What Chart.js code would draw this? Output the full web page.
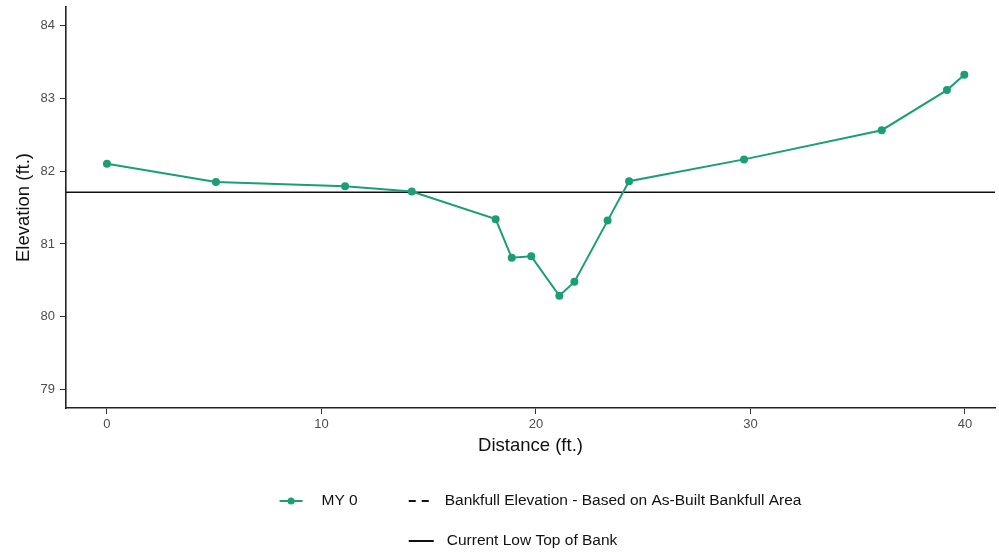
<!DOCTYPE html>
<html>
<head>
<meta charset="utf-8">
<script src="https://cdn.jsdelivr.net/npm/chart.js@4"></script>
<style>
  html, body { margin: 0; padding: 0; background: #fff; }
  #wrap { width: 999px; height: 553px; }
</style>
</head>
<body>
<div id="wrap"><canvas id="xsChart" width="999" height="553"></canvas></div>
<script>
// cross-section survey, MY 0
const distance = [0, 5.08, 11.1, 14.21, 18.12, 18.87, 19.78, 21.09, 21.79, 23.34, 24.34, 29.7, 36.12, 39.16, 39.97];
const elevation = [82.1, 81.85, 81.79, 81.72, 81.34, 80.81, 80.83, 80.29, 80.48, 81.32, 81.86, 82.16, 82.56, 83.11, 83.32];
const lowTopOfBank = 81.71;

const xMin = -1.91, xMax = 41.4;
const yMin = 78.75, yMax = 84.25;
const xTicks = [0, 10, 20, 30, 40];
const yTicks = [79, 80, 81, 82, 83, 84];

const legendLabels = ['MY 0', 'Bankfull Elevation - Based on As-Built Bankfull Area', 'Current Low Top of Bank'];

const teal = '#1b9e77';
const fontFamily = '"Liberation Sans", Arial, Helvetica, sans-serif';

const surveyPoints = distance.map((d, i) => ({ x: d, y: elevation[i] }));
const bankPoints = [{ x: xMin, y: lowTopOfBank }, { x: xMax, y: lowTopOfBank }];

// ggplot-like legend: two rows, second row sits under the second column
const rowLegend = {
  id: 'rowLegend',
  afterDraw(chart) {
    const ctx = chart.ctx;
    const area = chart.chartArea;
    ctx.save();
    ctx.font = '15.5px ' + fontFamily;
    ctx.textBaseline = 'middle';

    const keyW = 23, firstGap = 19, keyGap = 13, colGap = 51;
    const w0 = ctx.measureText(legendLabels[0]).width;
    const w1 = ctx.measureText(legendLabels[1]).width;
    const rowW = keyW + firstGap + w0 + colGap + keyW + keyGap + w1;
    const x0 = (area.left + area.right) / 2 + 10 - rowW / 2;
    const x1 = x0 + keyW + firstGap + w0 + colGap;
    const y0 = 501, y1 = 541;

    // MY 0 key
    ctx.strokeStyle = teal;
    ctx.lineWidth = 2;
    ctx.beginPath();
    ctx.moveTo(x0, y0); ctx.lineTo(x0 + keyW, y0);
    ctx.stroke();
    ctx.fillStyle = teal;
    ctx.beginPath();
    ctx.arc(x0 + keyW / 2, y0, 3.5, 0, Math.PI * 2);
    ctx.fill();
    ctx.fillStyle = '#111';
    ctx.fillText(legendLabels[0], x0 + keyW + firstGap, y0);

    // bankfull key
    ctx.strokeStyle = '#111';
    ctx.setLineDash([7, 6]);
    ctx.beginPath();
    ctx.moveTo(x1, y0); ctx.lineTo(x1 + keyW, y0);
    ctx.stroke();
    ctx.setLineDash([]);
    ctx.fillText(legendLabels[1], x1 + keyW + keyGap, y0);

    // top of bank key
    ctx.beginPath();
    ctx.moveTo(x1, y1); ctx.lineTo(x1 + keyW + 2, y1);
    ctx.stroke();
    ctx.fillText(legendLabels[2], x1 + keyW + keyGap + 2, y1);
    ctx.restore();
  }
};

new Chart(document.getElementById('xsChart'), {
  type: 'line',
  data: {
    datasets: [
      {
        label: legendLabels[0],
        data: surveyPoints,
        borderColor: teal,
        backgroundColor: teal,
        borderWidth: 2,
        pointRadius: 4,
        pointBorderWidth: 0,
        tension: 0,
      },
      {
        label: legendLabels[2],
        data: bankPoints,
        borderColor: '#111',
        borderWidth: 1.6,
        pointRadius: 0,
        tension: 0,
      },
    ],
  },
  options: {
    responsive: false,
    animation: false,
    events: [],
    layout: { padding: { top: 7, right: 0, left: 0, bottom: 93 } },
    plugins: {
      legend: { display: false },
      tooltip: { enabled: false },
    },
    scales: {
      x: {
        type: 'linear',
        min: xMin,
        max: xMax,
        afterFit: (scale) => {
          scale.height = 52;
          scale.paddingLeft = 0;
          scale.paddingRight = 0;
        },
        afterBuildTicks: (scale) => { scale.ticks = xTicks.map(v => ({ value: v })); },
        grid: { drawOnChartArea: false, tickLength: 6, tickColor: '#333', tickWidth: 1 },
        border: { color: '#222', width: 1.6 },
        ticks: { color: '#4d4d4d', padding: 3, font: { family: fontFamily, size: 13 } },
        title: {
          display: true,
          text: 'Distance (ft.)',
          color: '#111',
          font: { family: fontFamily, size: 18.5 },
          padding: { top: 0, bottom: 3 },
        },
      },
      y: {
        type: 'linear',
        min: yMin,
        max: yMax,
        afterFit: (scale) => {
          scale.width = 66;
          scale.paddingTop = 0;
          scale.paddingBottom = 0;
        },
        afterBuildTicks: (scale) => { scale.ticks = yTicks.map(v => ({ value: v })); },
        grid: { drawOnChartArea: false, tickLength: 6, tickColor: '#333', tickWidth: 1 },
        border: { color: '#222', width: 1.6 },
        ticks: { color: '#4d4d4d', padding: 5, font: { family: fontFamily, size: 13 } },
        title: {
          display: true,
          text: 'Elevation (ft.)',
          color: '#111',
          font: { family: fontFamily, size: 18.5 },
          padding: { top: 13, bottom: 0 },
        },
      },
    },
  },
  plugins: [rowLegend],
});
</script>
</body>
</html>
